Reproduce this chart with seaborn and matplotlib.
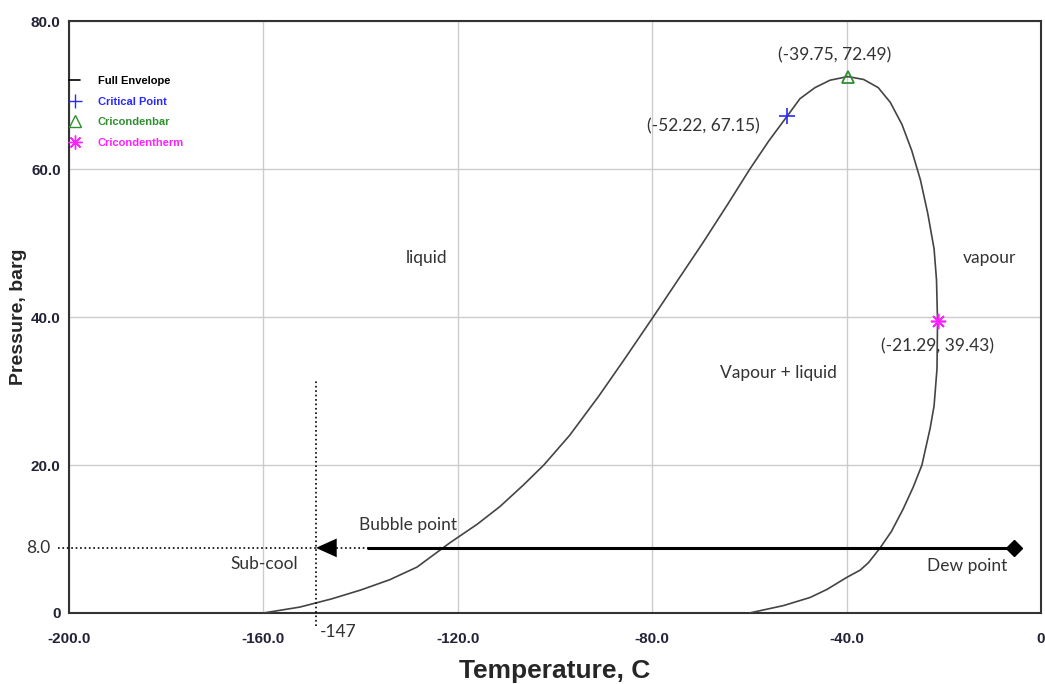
import matplotlib
matplotlib.use("Agg")
import matplotlib.pyplot as plt
import matplotlib.ticker as ticker
from matplotlib.lines import Line2D
import seaborn as sns
import pandas as pd

# Phase envelope (bubble side -> cricondenbar -> dew side)
env_T = [-160.0, -152.5, -146.0, -140.0, -134.0, -128.4, -121.6, -116.0, -111.3,
         -106.5, -102.3, -97.0, -91.0, -85.5, -79.8, -74.5, -69.5, -64.5, -59.9,
         -56.0, -52.22, -49.6, -46.5, -43.4, -39.75, -36.5, -33.5, -31.0, -28.6,
         -26.6, -24.8, -23.3, -22.0, -21.5, -21.29, -21.4, -22.0, -22.8, -24.5,
         -26.3, -28.4, -30.8, -33.1, -35.5, -37.2, -40.0, -44.0, -47.5, -53.0, -60.0]
env_P = [0.0, 0.8, 1.9, 3.1, 4.5, 6.2, 9.5, 12.0, 14.4,
         17.3, 20.0, 24.0, 29.3, 34.5, 40.0, 45.2, 50.1, 55.2, 60.0,
         63.8, 67.15, 69.5, 71.0, 72.0, 72.49, 72.1, 71.0, 69.0, 66.0,
         62.5, 58.5, 54.0, 49.2, 45.0, 39.43, 33.0, 28.0, 25.0, 20.0,
         17.0, 14.0, 11.0, 8.8, 6.8, 5.8, 4.8, 3.2, 2.1, 1.0, 0.0]

crit = (-52.22, 67.15)
cbar = (-39.75, 72.49)
ctherm = (-21.29, 39.43)

legend_labels = ["Full Envelope", "Critical Point", "Cricondenbar", "Cricondentherm"]
legend_colors = ["black", "#2a2aff", "#2f8f2f", "#ff20ff"]

x_ticks = [-200, -160, -120, -80, -40, 0]
x_tick_labels = ["-200.0", "-160.0", "-120.0", "-80.0", "-40.0", "0"]
y_ticks = [0, 20, 40, 60, 80]
y_tick_labels = ["0", "20.0", "40.0", "60.0", "80.0"]

# operating line (drawn at the pixel height of the "8.0" note)
op_P = 8.8
subcool_T = -149.2
dew_T = -5.55

region_labels = ["liquid", "vapour", "Vapour + liquid", "Bubble point", "Sub-cool", "Dew point"]
region_T = [-126.5, -10.5, -54.1, -130.2, -159.9, -15.2]
region_P = [48.0, 48.0, 32.5, 11.9, 6.6, 6.4]

sns.set_style("white")
plt.rcParams["font.family"] = ["Liberation Sans", "DejaVu Sans"]

fig = plt.figure(figsize=(10.45, 6.84), dpi=100)
ax = fig.add_axes([69 / 1045, 1 - 613 / 684, 972 / 1045, 592 / 684])

env = pd.DataFrame({"T": env_T, "P": env_P})
sns.lineplot(data=env, x="T", y="P", sort=False, estimator=None, color="#444444",
             linewidth=1.2, ax=ax, zorder=3)

ax.plot(*crit, marker="+", color=legend_colors[1], markersize=11, markeredgewidth=1.2, zorder=5)
ax.plot(*cbar, marker="^", color=legend_colors[2], markersize=9, fillstyle="none",
        markeredgewidth=1.3, zorder=5)
ax.plot(*ctherm, marker=(8, 2, 0), color=legend_colors[3], markersize=11,
        markeredgewidth=1.2, zorder=5)

ann_font = dict(family=["Lato", "DejaVu Sans"], fontsize=12.5, color="#333333")
ax.text(-42.5, 75.3, "(-39.75, 72.49)", ha="center", va="center", **ann_font)
ax.text(-69.5, 65.7, "(-52.22, 67.15)", ha="center", va="center", **ann_font)
ax.text(-21.2, 36.0, "(-21.29, 39.43)", ha="center", va="center", **ann_font)
for lab, t, p in zip(region_labels, region_T, region_P):
    ax.text(t, p, lab, ha="center", va="center", **ann_font)

# operating line and sub-cool markers
ax.plot([-202.3, subcool_T + 10.7], [op_P, op_P], color="black", linestyle=":",
        linewidth=1.2, clip_on=False, zorder=4)
ax.plot([subcool_T, subcool_T], [-1.8, 31.4], color="black", linestyle=":",
        linewidth=1.2, clip_on=False, zorder=4)
ax.plot([subcool_T + 10.7, dew_T], [op_P, op_P], color="black", linewidth=2.2, zorder=4)
ax.annotate("", xy=(subcool_T, op_P), xytext=(subcool_T + 3.5, op_P),
            arrowprops=dict(arrowstyle="-|>,head_length=1.0,head_width=0.45",
                            color="black", lw=0, mutation_scale=15,
                            shrinkA=0, shrinkB=0), zorder=6)
ax.plot(dew_T, op_P, marker="D", color="black", markersize=8, zorder=6)
ax.text(-206.4, op_P, "8.0", ha="center", va="center", clip_on=False, **ann_font)
ax.text(-144.7, -2.6, "-147", ha="center", va="center", clip_on=False, **ann_font)

ax.set_xlim(-200, 0)
ax.set_ylim(0, 80)
ax.set_xticks(x_ticks)
ax.set_xticklabels(x_tick_labels)
ax.set_yticks(y_ticks)
ax.set_yticklabels(y_tick_labels)
ax.xaxis.set_minor_locator(ticker.MultipleLocator(20))
ax.yaxis.set_minor_locator(ticker.MultipleLocator(10))
ax.tick_params(which="major", length=0, labelsize=11, labelcolor="#232338", pad=14)
ax.tick_params(axis="y", which="major", pad=6)
ax.tick_params(which="minor", direction="in", length=6, color="#bbbbbb", width=1)
for lab in ax.get_xticklabels() + ax.get_yticklabels():
    lab.set_fontweight("bold")
ax.grid(True, which="major", color="#cccccc", linewidth=1)
for sp in ax.spines.values():
    sp.set_color("#333333")
    sp.set_linewidth(1.5)

ax.set_xlabel("Temperature, C", fontsize=19, fontweight="bold", labelpad=9)
ax.set_ylabel("Pressure, barg", fontsize=14, fontweight="bold", labelpad=3)

handles = [
    Line2D([], [], color="black", linewidth=1.2),
    Line2D([], [], color=legend_colors[1], marker="+", linestyle="none", markersize=10),
    Line2D([], [], color=legend_colors[2], marker="^", linestyle="none", markersize=8, fillstyle="none"),
    Line2D([], [], color=legend_colors[3], marker=(8, 2, 0), linestyle="none", markersize=10),
]
leg = ax.legend(handles, legend_labels, loc="upper left", bbox_to_anchor=(0.0, 0.907),
                frameon=False, handlelength=1.0, handletextpad=1.6,
                labelspacing=0.95, borderpad=0, borderaxespad=0,
                prop=dict(weight="bold", size=8))
for txt, c in zip(leg.get_texts(), legend_colors):
    txt.set_color(c)

fig.savefig("out.png", dpi=100)
